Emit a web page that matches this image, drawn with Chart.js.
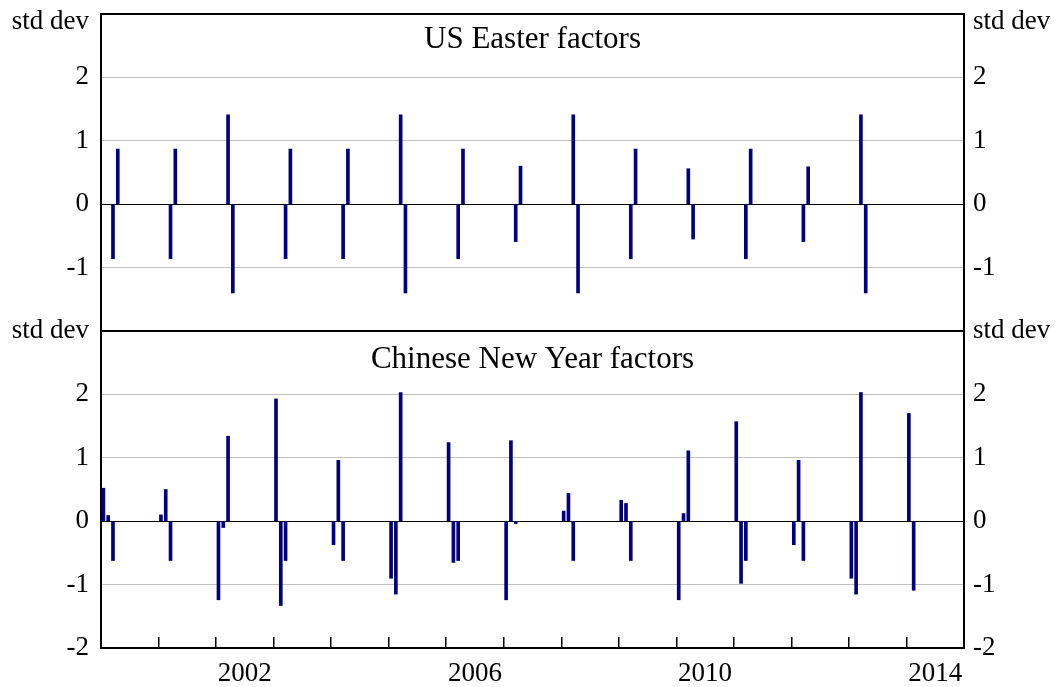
<!DOCTYPE html>
<html>
<head>
<meta charset="utf-8">
<script src="https://cdn.jsdelivr.net/npm/chart.js@4/dist/chart.umd.min.js"></script>
<style>
  body { margin: 0; background: #fff; }
  canvas { display: block; }
</style>
</head>
<body>
<canvas id="chart" width="1057" height="687"></canvas>
<script>
// monthly categories, Jan 2000 .. Dec 2014
var months = [];
for (var yr = 2000; yr <= 2014; yr++) {
    for (var mo = 1; mo <= 12; mo++) months.push(yr + '-' + (mo < 10 ? '0' + mo : mo));
}

var yearLabels = ['2002', '2006', '2010', '2014'];

var easterMonths = ['2000-03','2000-04','2001-03','2001-04','2002-03','2002-04','2003-03','2003-04',
                    '2004-03','2004-04','2005-03','2005-04','2006-03','2006-04','2007-03','2007-04',
                    '2008-03','2008-04','2009-03','2009-04','2010-03','2010-04','2011-03','2011-04',
                    '2012-03','2012-04','2013-03','2013-04'];
var easterValues = [-0.86, 0.87, -0.86, 0.87, 1.41, -1.40, -0.86, 0.87,
                    -0.86, 0.87, 1.41, -1.40, -0.86, 0.87, -0.59, 0.60,
                    1.41, -1.40, -0.86, 0.87, 0.56, -0.55, -0.86, 0.87,
                    -0.59, 0.59, 1.41, -1.40];

var cnyMonths = ['2000-01','2000-02','2000-03','2001-01','2001-02','2001-03','2002-01','2002-02','2002-03',
                 '2003-01','2003-02','2003-03','2004-01','2004-02','2004-03','2005-01','2005-02','2005-03',
                 '2006-01','2006-02','2006-03','2007-01','2007-02','2007-03','2008-01','2008-02','2008-03',
                 '2009-01','2009-02','2009-03','2010-01','2010-02','2010-03','2011-01','2011-02','2011-03',
                 '2012-01','2012-02','2012-03','2013-01','2013-02','2013-03','2014-01','2014-02'];
var cnyValues = [0.52, 0.09, -0.62, 0.10, 0.50, -0.62, -1.24, -0.10, 1.34,
                 1.93, -1.33, -0.62, -0.37, 0.96, -0.62, -0.90, -1.15, 2.03,
                 1.24, -0.65, -0.62, -1.24, 1.27, -0.04, 0.16, 0.44, -0.62,
                 0.33, 0.28, -0.62, -1.24, 0.12, 1.11, 1.57, -0.98, -0.62,
                 -0.37, 0.96, -0.62, -0.90, -1.15, 2.03, 1.70, -1.09];

var topTicks = [-2, -1, 0, 1, 2, 2.88, 3];   // 2.88 carries the "std dev" caption
var bottomTicks = [-2, -1, 0, 1, 2, 3];

function toSeries(dates, values) {
    var out = months.map(function(){ return null; });
    for (var i = 0; i < dates.length; i++) out[months.indexOf(dates[i])] = values[i];
    return out;
}

var yearTickText = {};
yearLabels.forEach(function(l){ yearTickText[months.indexOf(l + '-07')] = l; });

var tickFont = {family: '"Liberation Serif", "Times New Roman", serif', size: 27};
var titleFont = {family: '"Liberation Serif", "Times New Roman", serif', size: 31, weight: 'normal'};

function topLabel(v){
    if (v === 2.88) return 'std dev';
    if (v === 3 || v === -2) return '';
    return String(v);
}
function bottomLabel(v){
    return v === 3 ? 'std dev' : String(v);
}

function noPad(s){
    s.paddingTop = 0; s.paddingBottom = 0; s.paddingLeft = 0; s.paddingRight = 0;
}

function yAxis(pos, stackName, ticks, labelFn, width, isTop){
    return {
        type: 'linear',
        position: pos,
        stack: stackName,
        stackWeight: 1,
        min: -2,
        max: 3,
        afterBuildTicks: function(s){ s.ticks = ticks.map(function(v){ return {value: v}; }); },
        afterFit: function(s){ s.width = width; noPad(s); },
        border: {display: true, color: '#000', width: 2},
        grid: {
            display: pos === 'left',
            drawTicks: false,
            color: function(c){
                var v = c.tick ? c.tick.value : null;
                if (v === 0) return '#000';
                if (isTop && (v === 3 || v === -2)) return '#000';
                if (v === 1 || v === 2 || v === -1) return '#c0c0c0';
                return 'rgba(0,0,0,0)';
            },
            lineWidth: function(c){
                var v = c.tick ? c.tick.value : null;
                return (v === 3 || v === -2) ? 2 : 1;
            }
        },
        ticks: {
            autoSkip: false,
            padding: pos === 'left' ? 12 : 9,
            color: '#000',
            font: tickFont,
            callback: function(v){ return labelFn(v); }
        }
    };
}

var chart = new Chart(document.getElementById('chart'), {
    type: 'bar',
    data: {
        labels: months,
        datasets: [
            {label: 'US Easter factors', data: toSeries(easterMonths, easterValues), yAxisID: 'yTop',
             backgroundColor: '#000080', barThickness: 3, grouped: false},
            {label: 'Chinese New Year factors', data: toSeries(cnyMonths, cnyValues), yAxisID: 'yBot',
             backgroundColor: '#000080', barThickness: 3, grouped: false}
        ]
    },
    options: {
        responsive: false,
        animation: false,
        devicePixelRatio: 1,
        layout: {padding: 0, autoPadding: false},
        plugins: {
            legend: {display: false},
            tooltip: {enabled: false},
            // negative bottom padding lets the panel titles sit inside the plot frame
            title: {display: true, text: 'US Easter factors', color: '#000', font: titleFont,
                    fullSize: false, padding: {top: 21.4, bottom: -58.6}},
            subtitle: {display: true, text: 'Chinese New Year factors', color: '#000', font: titleFont,
                       fullSize: false, padding: {top: 340.9, bottom: -364.1}}
        },
        scales: {
            x: {
                type: 'category',
                offset: true,
                afterFit: function(s){ s.height = 39; noPad(s); },
                border: {display: true, color: '#000', width: 2},
                grid: {
                    offset: true,
                    drawOnChartArea: false,
                    drawTicks: true,
                    tickLength: -11,
                    lineWidth: 1.5,
                    color: function(c){
                        return (c.index > 0 && c.index % 12 === 0) ? '#000' : 'rgba(0,0,0,0)';
                    }
                },
                ticks: {
                    autoSkip: false,
                    maxRotation: 0,
                    minRotation: 0,
                    padding: 21,
                    labelOffset: -2.4,
                    color: '#000',
                    font: tickFont,
                    callback: function(v, i){ return yearTickText[i] || ''; }
                }
            },
            // left stack is laid out in reverse order, so the lower panel is declared first
            yBot: yAxis('left', 'left', bottomTicks, bottomLabel, 101, false),
            yTop: yAxis('left', 'left', topTicks, topLabel, 101, true),
            yTopR: yAxis('right', 'right', topTicks, topLabel, 93, true),
            yBotR: yAxis('right', 'right', bottomTicks, bottomLabel, 93, false)
        }
    }
});
</script>
</body>
</html>
